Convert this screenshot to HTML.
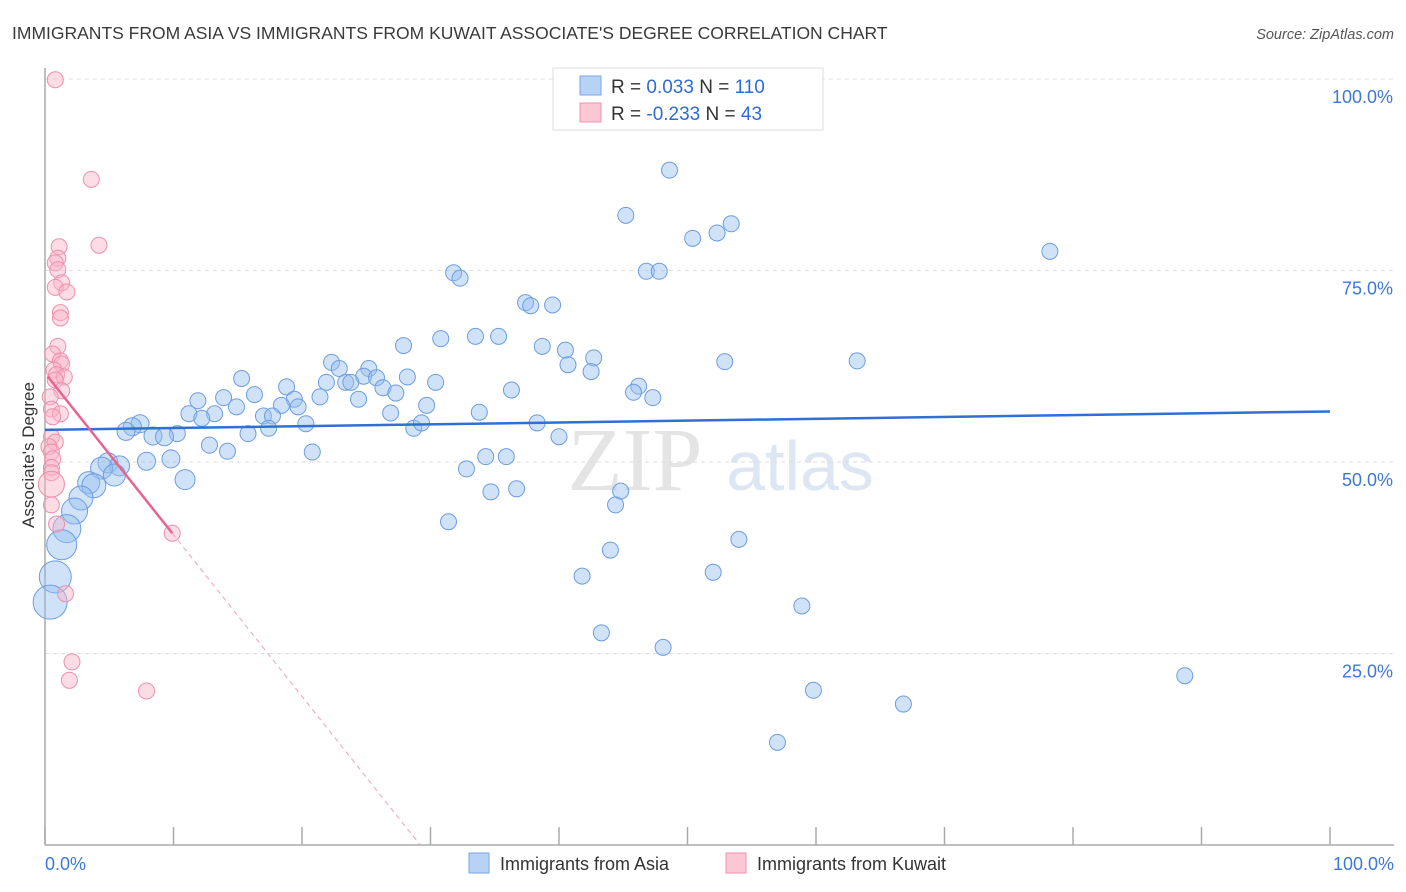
<!DOCTYPE html>
<html><head><meta charset="utf-8"><style>
body{margin:0;background:#fff;font-family:"Liberation Sans",sans-serif}
</style></head><body>
<svg id="c" width="1406" height="892" xmlns="http://www.w3.org/2000/svg" style="display:block">
<text x="12" y="39" font-size="17.5" fill="#3a3a3a">IMMIGRANTS FROM ASIA VS IMMIGRANTS FROM KUWAIT ASSOCIATE'S DEGREE CORRELATION CHART</text>
<text x="1394" y="39" font-size="14.5" fill="#555" text-anchor="end" font-style="italic">Source: ZipAtlas.com</text>
<g><text x="635" y="490" font-size="90" fill="#e4e4e4" text-anchor="middle" font-family="Liberation Serif,serif">ZIP</text><text x="800" y="490" font-size="70" fill="#dde6f3" text-anchor="middle">atlas</text></g>
<g id="grid"></g><g id="axes"></g><g id="marks"></g>
<text transform="translate(34,455) rotate(-90)" font-size="17" fill="#333" text-anchor="middle">Associate's Degree</text>
<g>
<rect x="553" y="68" width="270" height="62" fill="#fff" stroke="#ddd"/>
<rect x="580" y="76" width="21" height="19" fill="#b8d2f5" stroke="#7aa6e6"/>
<rect x="580" y="103" width="21" height="19" fill="#fbc7d5" stroke="#ef93ad"/>
<text x="611" y="93" font-size="19" fill="#333">R = <tspan fill="#2e6bd6"> 0.033</tspan>   N = <tspan fill="#2e6bd6">110</tspan></text>
<text x="611" y="120" font-size="19" fill="#333">R = <tspan fill="#2e6bd6">-0.233</tspan>   N = <tspan fill="#2e6bd6"> 43</tspan></text>
</g>
<g>
<rect x="469" y="853" width="20" height="20" fill="#b8d2f5" stroke="#7aa6e6"/>
<text x="500" y="870" font-size="18" fill="#333">Immigrants from Asia</text>
<rect x="726" y="853" width="20" height="20" fill="#fbc7d5" stroke="#ef93ad"/>
<text x="757" y="870" font-size="18" fill="#333">Immigrants from Kuwait</text>
</g>
</svg>
<script>
const yTicks=[25,50,75,100];
const yTickLabels=["25.0%","50.0%","75.0%","100.0%"];
const xTickLabels=["0.0%","100.0%"];
const asiaX=[48.6,45.2,53.4,52.3,50.4,78.2,46.8,47.8,31.8,32.3,37.4,37.8,39.5,30.8,33.5,35.3,27.9,38.7,40.5,42.7,40.7,42.5,52.9,63.2,22.3,22.9,25.2,24.8,25.8,28.2,15.3,21.9,23.4,23.8,26.3,27.3,30.4,18.8,46.2,45.8,36.3,47.3,24.4,21.4,16.3,13.9,11.9,19.4,19.7,14.9,18.4,29.7,26.9,17.0,17.7,11.2,13.2,12.2,33.8,20.3,17.4,28.7,29.3,38.3,7.4,6.8,6.3,15.8,10.3,8.4,9.3,40.0,12.8,14.2,20.8,34.3,35.9,7.9,9.8,32.8,4.9,5.8,4.4,5.4,10.9,3.4,3.8,36.7,34.7,44.8,2.8,44.4,2.3,31.4,1.7,54.0,1.3,44.0,41.8,52.0,0.8,0.4,58.9,43.3,48.1,88.7,59.8,66.8,57.0];
const asiaY=[88.1,82.2,81.1,79.9,79.2,77.5,74.9,74.9,74.7,74.0,70.8,70.4,70.5,66.1,66.4,66.4,65.2,65.1,64.6,63.6,62.7,61.8,63.1,63.2,63.0,62.2,62.2,61.2,61.0,61.1,60.9,60.4,60.4,60.4,59.7,59.0,60.4,59.8,59.9,59.1,59.4,58.4,58.2,58.5,58.8,58.4,58.0,58.2,57.2,57.2,57.4,57.4,56.4,56.0,56.0,56.3,56.3,55.7,56.5,55.0,54.4,54.4,55.1,55.1,55.0,54.6,54.0,53.7,53.7,53.4,53.3,53.3,52.2,51.4,51.3,50.7,50.7,50.1,50.4,49.1,49.9,49.5,49.2,48.3,47.7,47.3,46.9,46.5,46.1,46.2,45.3,44.4,43.6,42.2,41.3,39.9,39.2,38.5,35.1,35.6,35.0,31.7,31.2,27.7,25.8,22.1,20.2,18.4,13.4];
const asiaR=[8,8,8,8,8,8,8,8,8,8,8,8,8,8,8,8,8,8,8,8,8,8,8,8,8,8,8,8,8,8,8,8,8,8,8,8,8,8,8,8,8,8,8,8,8,8,8,8,8,8,8,8,8,8,8,8,8,8,8,8,8,8,8,8,9,9,9,8,8,9,9,8,8,8,8,8,8,9,9,8,10,10,11,11,10,11,12,8,8,8,12,8,13,8,14,8,15,8,8,8,16,17,8,8,8,8,8,8,8];
const kuwaitX=[0.8,3.6,4.2,1.1,1.0,0.8,1.0,1.3,0.8,1.7,1.2,1.2,1.0,0.6,1.2,1.3,0.7,0.9,1.5,0.8,1.3,0.4,0.5,1.2,0.6,0.5,0.8,0.3,0.5,0.6,0.5,0.5,0.5,0.5,0.9,9.9,1.6,2.1,1.9,7.9];
const kuwaitY=[99.9,86.9,78.3,78.1,76.6,76.0,75.1,73.4,72.8,72.2,69.5,68.8,65.1,64.1,63.2,62.8,62.0,61.4,61.1,60.7,59.3,58.5,56.9,56.3,55.9,53.3,52.6,52.0,51.3,50.4,49.3,48.6,47.1,44.4,41.9,40.7,32.8,23.9,21.5,20.1];
const kuwaitR=[8,8,8,8,8,8,8,8,8,8,8,8,8,8,8,8,8,8,8,8,8,8,8,8,8,8,8,8,8,8,8,8,13,8,8,8,8,8,8,8];
const asiaTrend=[54.2,56.6];
const kuwaitTrend=[61.6,-2.11];
const X0=45,X1=1330,Y100=79,Y0=845;
const sx=v=>X0+(X1-X0)*v/100, sy=v=>Y0-(Y0-Y100)*v/100;
const NS="http://www.w3.org/2000/svg";
function mk(t,a,p){const e=document.createElementNS(NS,t);for(const k in a)e.setAttribute(k,a[k]);p.appendChild(e);return e;}
const grid=document.getElementById('grid'),axes=document.getElementById('axes'),marks=document.getElementById('marks');
yTicks.forEach((t,i)=>{const l=mk('line',{x1:X0,x2:1394,y1:sy(t),y2:sy(t),stroke:'#ddd','stroke-dasharray':'4,4'},grid);

const tx=mk('text',{x:1393,y:sy(t)+24,'font-size':18,fill:'#3d78d8','text-anchor':'end'},axes);tx.textContent=yTickLabels[i];
});
const ax=mk('line',{x1:X0,x2:X0,y1:68,y2:Y0,stroke:'#aaa','stroke-width':1.5},axes);

const bx=mk('line',{x1:X0,x2:1394,y1:Y0,y2:Y0,stroke:'#aaa','stroke-width':1.5},axes);

for(let i=0;i<=10;i++){const t=mk('line',{x1:sx(i*10),x2:sx(i*10),y1:Y0,y2:Y0-18,stroke:'#aaa','stroke-width':1.5},axes);
}
[[0,'start',45],[100,'end',1394]].forEach((d,i)=>{const t=mk('text',{x:d[2],y:870,'font-size':18,fill:'#3d78d8','text-anchor':d[1]},axes);t.textContent=xTickLabels[i];
});
asiaX.forEach((x,i)=>{const c=mk('circle',{cx:sx(x),cy:sy(asiaY[i]),r:asiaR[i],fill:'rgba(150,190,240,0.45)',stroke:'#6c9de0','stroke-width':1},marks);
});
kuwaitX.forEach((x,i)=>{const c=mk('circle',{cx:sx(x),cy:sy(kuwaitY[i]),r:kuwaitR[i],fill:'rgba(248,180,200,0.45)',stroke:'#ee8fab','stroke-width':1},marks);
});
const ta=mk('line',{x1:sx(0),y1:sy(asiaTrend[0]),x2:sx(100),y2:sy(asiaTrend[1]),stroke:'#2f6fd6','stroke-width':2.5},marks);

const kf=x=>kuwaitTrend[0]+kuwaitTrend[1]*x;
const tk=mk('line',{x1:sx(0.2),y1:sy(kf(0.2)),x2:sx(9.9),y2:sy(kf(9.9)),stroke:'#e8648e','stroke-width':2.5},marks);

const xe=-kuwaitTrend[0]/kuwaitTrend[1];
const td=mk('line',{x1:sx(9.9),y1:sy(kf(9.9)),x2:sx(xe),y2:sy(0),stroke:'#eea0b8','stroke-width':1,'stroke-dasharray':'5,4'},marks);

</script>
</body></html>
